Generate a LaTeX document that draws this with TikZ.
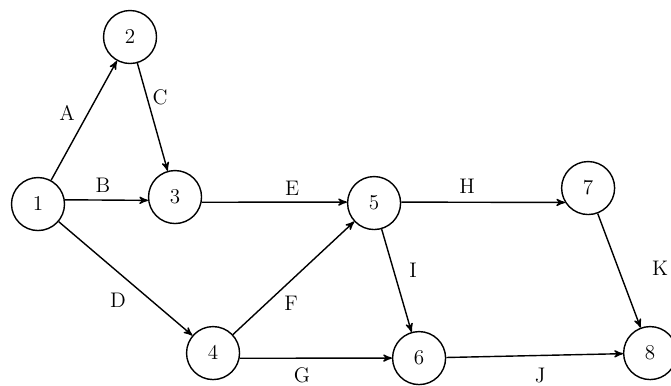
\documentclass[tikz,border=0pt]{standalone}
\usepackage{tikz}
\usetikzlibrary{arrows}
\usetikzlibrary{positioning}

\begin{document}
\begin{tikzpicture}[scale=1., auto,swap]
 \tikzset{evt/.style={draw, circle, line width=0.8pt, minimum size=1.06cm, inner sep=0pt, font=\large},
          act/.style={->, >=stealth', line width=0.8pt},
          lbl/.style={font=\large}}
 \useasboundingbox (0,0) rectangle (13.42,-7.7);

 %events
 \foreach \name/\x/\y in { 1/38/204, 2/130/37, 3/175/197, 4/213/353,
                           5/374/203, 6/419/358, 7/588/188, 8/650/353 } {
         \node[evt] (N\name) at (\x*0.02, -\y*0.02) {$\name$};
 }

 %activities
 \draw[act] (N1) -- (N2);
 \draw[act] (N1.9) -- (N3.187);
 \draw[act] (N1) -- (N4);
 \draw[act] (N2) -- (N3);
 \draw[act] (N3.349) -- (N5.178);
 \draw[act] (N4) -- (N5);
 \draw[act] (N4.349) -- (N6.180);
 \draw[act] (N5) -- (N6);
 \draw[act] (N5.2) -- (N7.212);
 \draw[act] (N6) -- (N8);
 \draw[act] (N7) -- (N8);

 %labels
 \foreach \txt/\x/\y in { A/67/113, B/103/185, C/160/97, D/118/300, E/292/188,
                          F/291/303, G/302/375, H/467/186, I/413/270, J/540/375, K/660/268 } {
         \node[lbl] (L\txt) at (\x*0.02, -\y*0.02) {\txt};
 }
\end{tikzpicture}
\end{document}
